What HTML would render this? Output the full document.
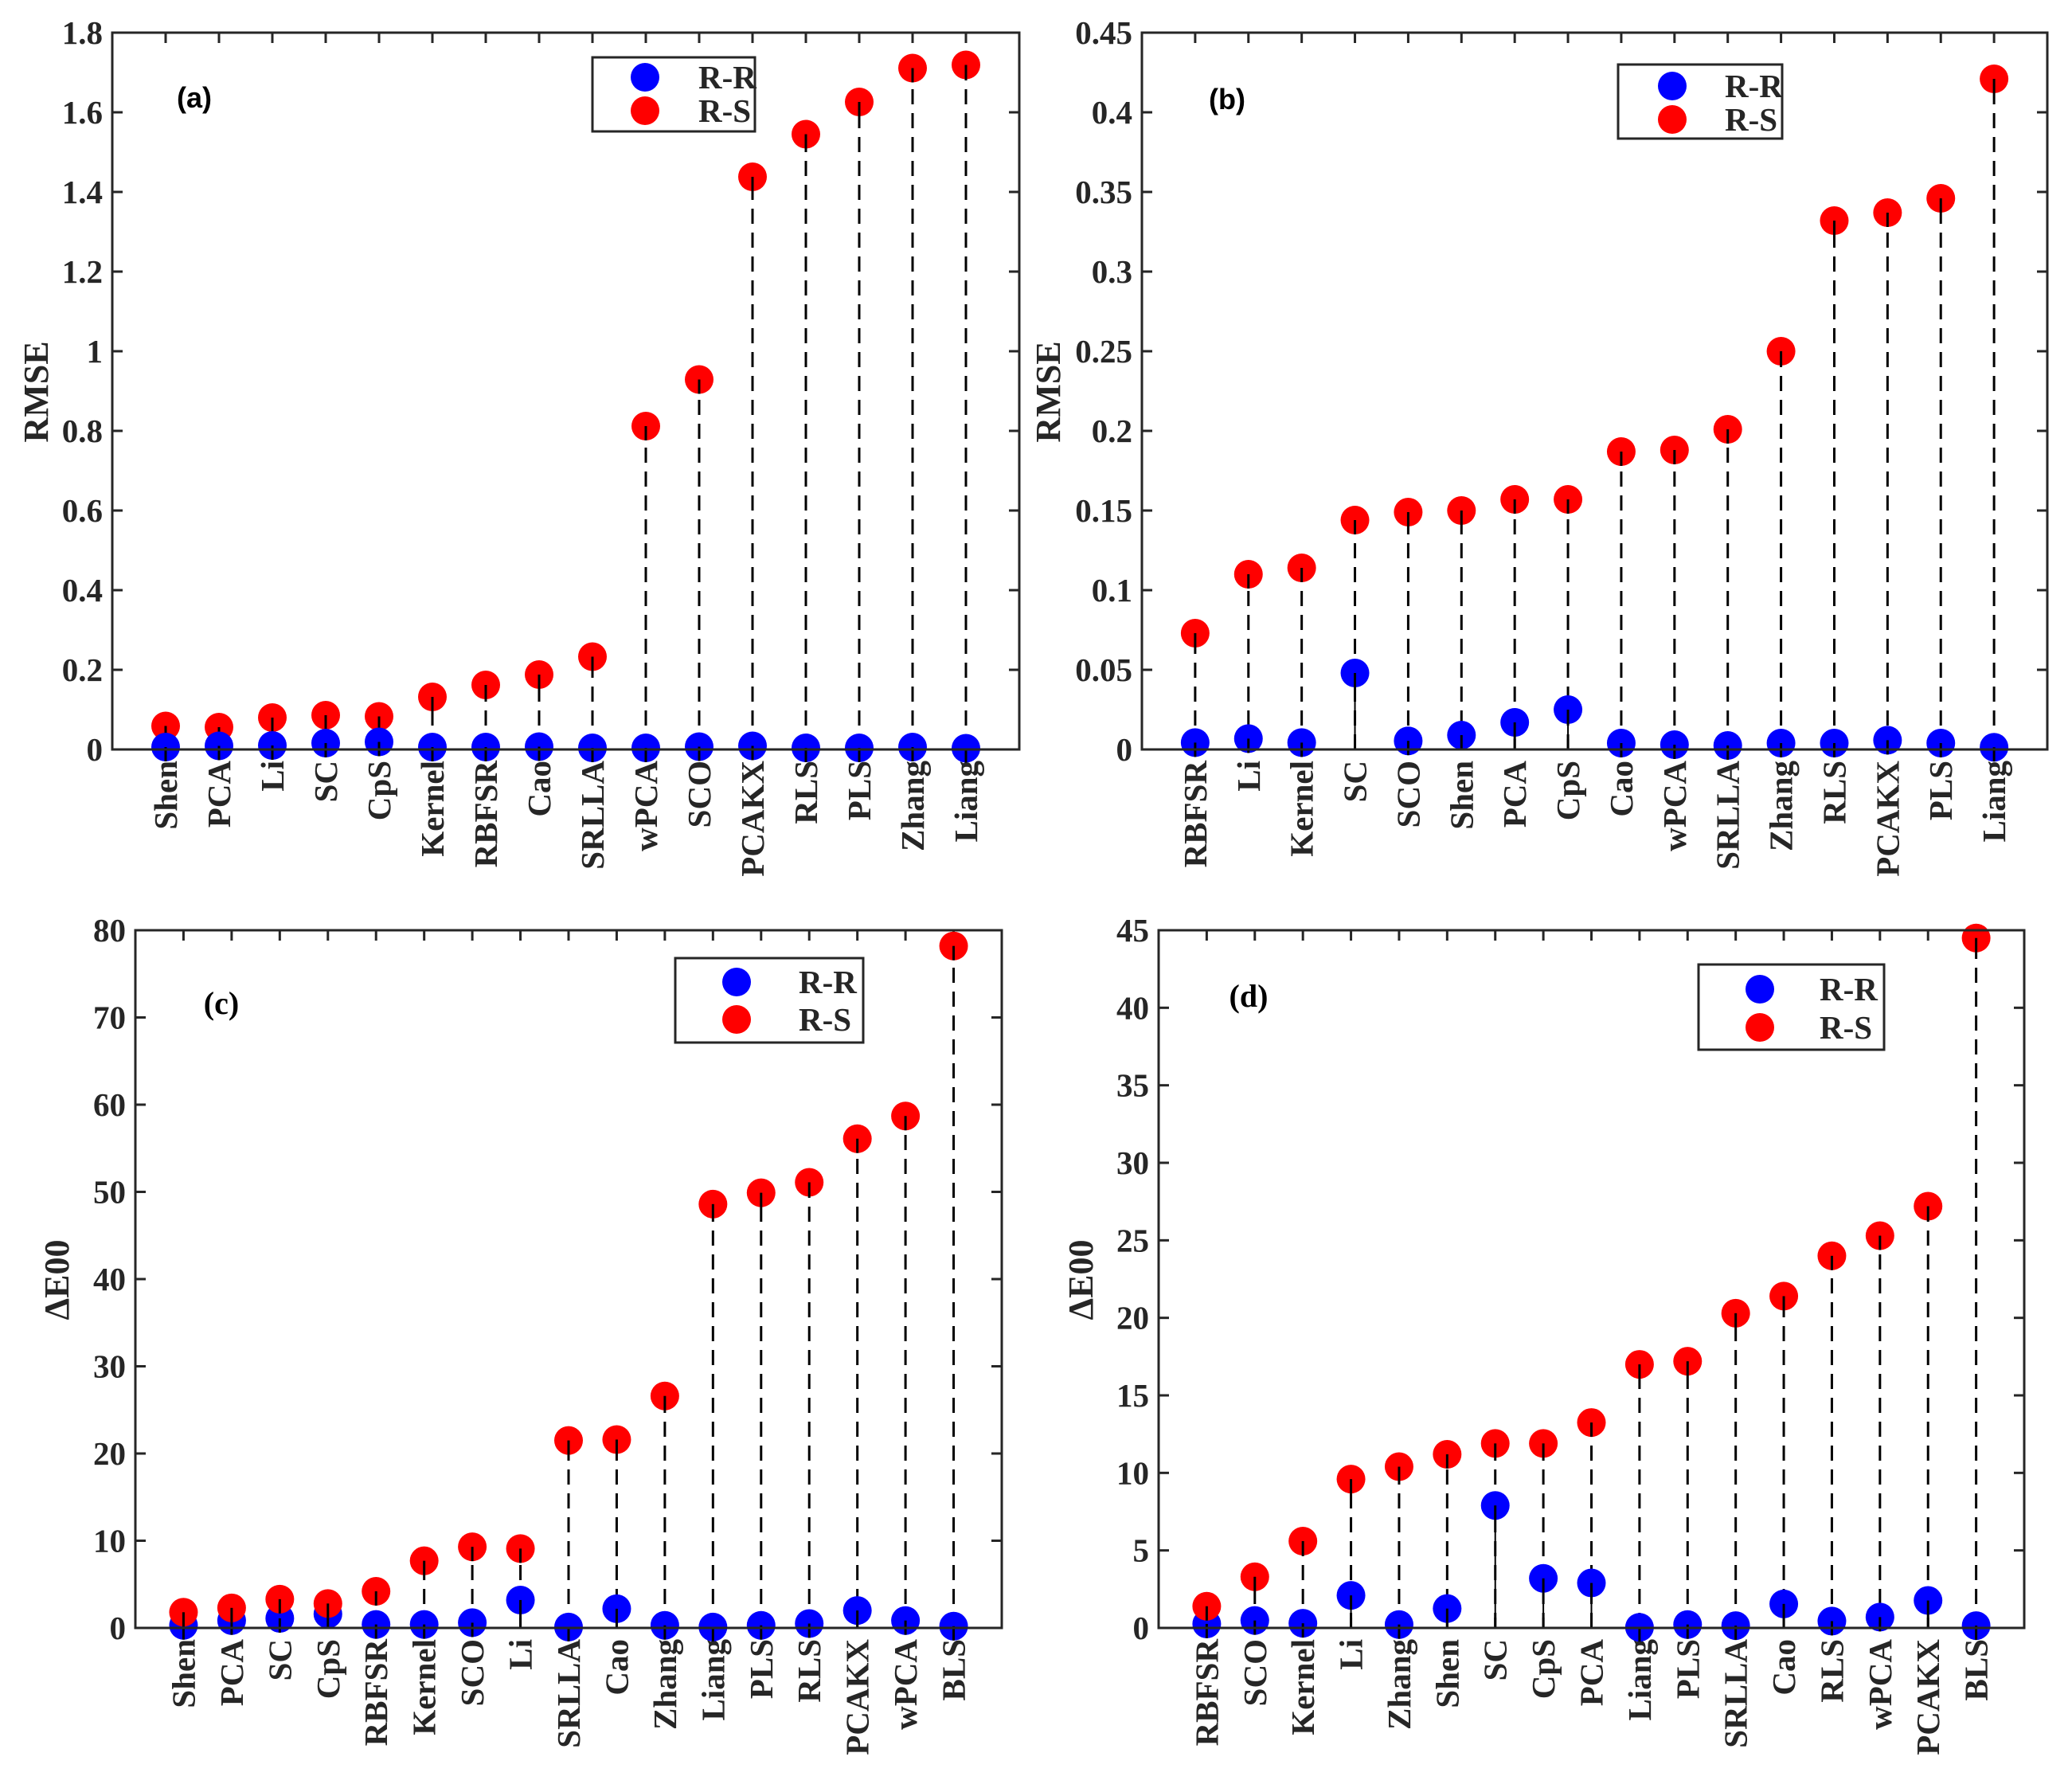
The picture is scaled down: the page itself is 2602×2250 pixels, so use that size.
<!DOCTYPE html>
<html><head><meta charset="utf-8"><style>
html,body{margin:0;padding:0;background:#fff;}
svg{display:block;font-family:"Liberation Serif",serif;}
</style></head><body>
<svg id="fig" width="2602" height="2250" viewBox="0 0 2602 2250" xmlns="http://www.w3.org/2000/svg"></svg>
<script>
// Panel (a)
const catsA = ["Shen","PCA","Li","SC","CpS","Kernel","RBFSR","Cao","SRLLA","wPCA","SCO","PCAKX","RLS","PLS","Zhang","Liang"];
const rsA = [0.059,0.056,0.080,0.086,0.083,0.132,0.162,0.188,0.233,0.812,0.929,1.438,1.545,1.626,1.711,1.719];
const rrA = [0.006,0.009,0.010,0.016,0.019,0.006,0.006,0.007,0.004,0.004,0.007,0.009,0.004,0.004,0.006,0.003];
const ticksA = ["0","0.2","0.4","0.6","0.8","1","1.2","1.4","1.6","1.8"];
// Panel (b)
const catsB = ["RBFSR","Li","Kernel","SC","SCO","Shen","PCA","CpS","Cao","wPCA","SRLLA","Zhang","RLS","PCAKX","PLS","Liang"];
const rsB = [0.073,0.110,0.114,0.144,0.149,0.150,0.157,0.157,0.187,0.188,0.201,0.250,0.332,0.337,0.346,0.421];
const rrB = [0.0043,0.0068,0.0043,0.048,0.0054,0.009,0.017,0.025,0.004,0.003,0.0025,0.004,0.004,0.0058,0.004,0.0014];
const ticksB = ["0","0.05","0.1","0.15","0.2","0.25","0.3","0.35","0.4","0.45"];
// Panel (c)
const catsC = ["Shen","PCA","SC","CpS","RBFSR","Kernel","SCO","Li","SRLLA","Cao","Zhang","Liang","PLS","RLS","PCAKX","wPCA","BLS"];
const rsC = [1.8,2.3,3.3,2.8,4.2,7.7,9.3,9.1,21.5,21.6,26.6,48.6,49.9,51.1,56.1,58.7,78.2];
const rrC = [0.3,0.85,1.1,1.6,0.4,0.4,0.6,3.2,0.1,2.2,0.3,0.1,0.3,0.5,2.0,0.85,0.2];
const ticksC = ["0","10","20","30","40","50","60","70","80"];
// Panel (d)
const catsD = ["RBFSR","SCO","Kernel","Li","Zhang","Shen","SC","CpS","PCA","Liang","PLS","SRLLA","Cao","RLS","wPCA","PCAKX","BLS"];
const rsD = [1.4,3.3,5.6,9.6,10.4,11.2,11.9,11.9,13.25,17.0,17.2,20.3,21.4,24.0,25.3,27.2,44.5];
const rrD = [0.26,0.48,0.3,2.1,0.22,1.25,7.9,3.2,2.9,0.04,0.22,0.15,1.55,0.44,0.7,1.77,0.15];
const ticksD = ["0","5","10","15","20","25","30","35","40","45"];

const NS="http://www.w3.org/2000/svg";
const svg=document.getElementById('fig');
const FS=41;
function mk(tag,attrs,parent){const e=document.createElementNS(NS,tag);for(const k in attrs)e.setAttribute(k,attrs[k]);(parent||svg).appendChild(e);return e;}

function panel(cfg){
  const {id,L,R,T,B,cats,rs,rr,ticks,ymax,ylab,ylabX,ylabY,tag,tagX,tagY,tagSans,leg,redTop}=cfg;
  const g=mk('g',{});
  
  
  const n=cats.length;
  const x=i=>L+(i+1)*(R-L)/(n+1);
  const y=v=>B-v/ymax*(B-T);
  ticks.forEach((t,i)=>{
    const v=i*ymax/(ticks.length-1), yy=y(v);
    const l1=mk('line',{x1:L,x2:L+13,y1:yy,y2:yy,stroke:'#262626','stroke-width':3},g);
    
    
    mk('line',{x1:R,x2:R-13,y1:yy,y2:yy,stroke:'#262626','stroke-width':3},g);
    const tx=mk('text',{x:L-12,y:yy+14,'text-anchor':'end','font-size':FS,'font-weight':'bold',fill:'#262626'},g);
    tx.textContent=t;
    
    
  });
  cats.forEach((c,i)=>{
    const xx=x(i);
    mk('line',{x1:xx,x2:xx,y1:B,y2:B-13,stroke:'#262626','stroke-width':3},g);
    mk('line',{x1:xx,x2:xx,y1:T,y2:T+13,stroke:'#262626','stroke-width':3},g);
    const tx=mk('text',{x:0,y:0,transform:`translate(${xx+14},${B+14}) rotate(-90)`,'text-anchor':'end','font-size':FS,'font-weight':'bold',fill:'#262626'},g);
    tx.textContent=c;
    
    
  });
  cats.forEach((c,i)=>{
    const xx=x(i);
    const s1=mk('line',{x1:xx,x2:xx,y1:B,y2:y(rs[i]),stroke:'#000','stroke-width':3,'stroke-dasharray':'19 11'},g);
    
    
    const s2=mk('line',{x1:xx,x2:xx,y1:B,y2:y(rr[i]),stroke:'#000','stroke-width':2},g);
    
    
  });
  const drawSeries=(vals,col,name)=>{
    vals.forEach((v,i)=>{
      const c=mk('circle',{cx:x(i),cy:y(v),r:18,fill:col},g);
      
      
      mk('line',{x1:x(i),x2:x(i),y1:y(v),y2:y(v)+18,stroke:'#000','stroke-width':3},g);
    });
  };
  if(redTop){drawSeries(rr,'#0000ff','rr');drawSeries(rs,'#ff0000','rs');}
  else{drawSeries(rs,'#ff0000','rs');drawSeries(rr,'#0000ff','rr');}
  const box=mk('rect',{x:L,y:T,width:R-L,height:B-T,fill:'none',stroke:'#262626','stroke-width':3},g);
  
  
  const yl=mk('text',{x:0,y:0,transform:`translate(${ylabX},${ylabY}) rotate(-90)`,'text-anchor':'middle','font-size':44,'font-weight':'bold',fill:'#262626'},g);
  yl.textContent=ylab;
  
  
  const tg=mk('text',{x:tagX,y:tagY+13,'text-anchor':'middle','font-size':tagSans?36:40,'font-weight':'bold',fill:'#000','font-family':tagSans?'"Liberation Sans",sans-serif':'"Liberation Serif",serif'},g);
  tg.textContent=tag;
  
  
  const lg=mk('g',{},g);
  
  
  mk('rect',{x:leg.x1,y:leg.y1,width:leg.x2-leg.x1,height:leg.y2-leg.y1,fill:'#fff',stroke:'#262626','stroke-width':3},lg);
  [['R-R','#0000ff',leg.m1],['R-S','#ff0000',leg.m2]].forEach(([lab,col,my])=>{
    const e=mk('g',{},lg);
    
    
    mk('circle',{cx:leg.mx,cy:my,r:18,fill:col},e);
    const t=mk('text',{x:leg.tx,y:my+14,'font-size':FS,'font-weight':'bold',fill:'#262626'},e);
    t.textContent=lab;
  });
}

panel({id:'a',L:141,R:1280,T:41,B:941,cats:catsA,rs:rsA,rr:rrA,ticks:ticksA,ymax:1.8,ylab:'RMSE',ylabX:60,ylabY:492,tag:'(a)',tagX:244,tagY:122,tagSans:true,
  leg:{x1:744,y1:72,x2:948,y2:165,mx:810,m1:97,m2:139,tx:877},redTop:false});
panel({id:'b',L:1434,R:2571,T:41,B:941,cats:catsB,rs:rsB,rr:rrB,ticks:ticksB,ymax:0.45,ylab:'RMSE',ylabX:1331,ylabY:492,tag:'(b)',tagX:1541,tagY:124,tagSans:true,
  leg:{x1:2032,y1:81,x2:2238,y2:174,mx:2100,m1:108,m2:150,tx:2166},redTop:false});
panel({id:'c',L:170,R:1258,T:1168,B:2044,cats:catsC,rs:rsC,rr:rrC,ticks:ticksC,ymax:80,ylab:'ΔE00',ylabX:86,ylabY:1607,tag:'(c)',tagX:278,tagY:1260,tagSans:false,
  leg:{x1:848,y1:1203,x2:1084,y2:1309,mx:925,m1:1233,m2:1280,tx:1003},redTop:true});
panel({id:'d',L:1455,R:2542,T:1168,B:2044,cats:catsD,rs:rsD,rr:rrD,ticks:ticksD,ymax:45,ylab:'ΔE00',ylabX:1372,ylabY:1607,tag:'(d)',tagX:1568,tagY:1251,tagSans:false,
  leg:{x1:2133,y1:1211,x2:2366,y2:1318,mx:2210,m1:1242,m2:1290,tx:2285},redTop:true});
</script>
</body></html>
